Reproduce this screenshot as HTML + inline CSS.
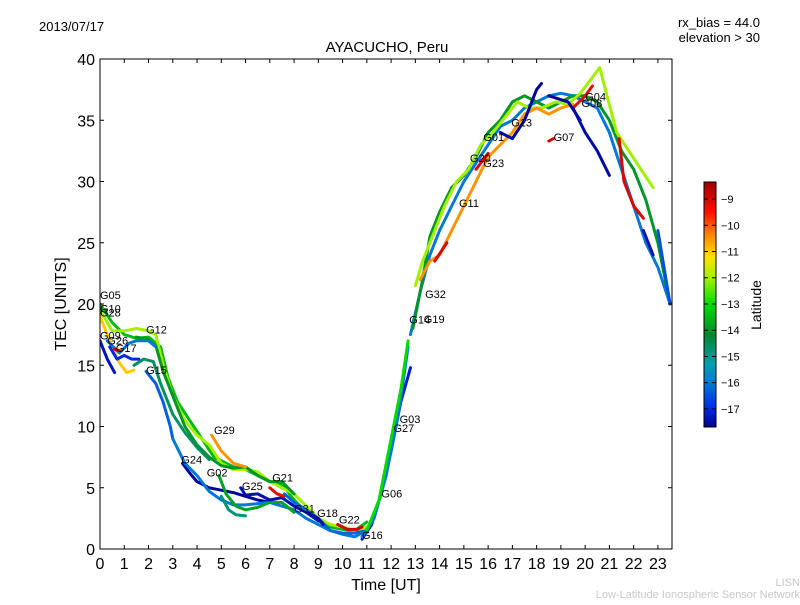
<!DOCTYPE html>
<html><head><meta charset="utf-8"><style>
body{margin:0;background:#fff;width:800px;height:600px;overflow:hidden;font-family:"Liberation Sans","DejaVu Sans",sans-serif}
</style></head><body>
<svg id="chart" width="800" height="600" xmlns="http://www.w3.org/2000/svg" font-family="Liberation Sans, DejaVu Sans, sans-serif">
<defs><linearGradient id="jetgrad" x1="0" y1="1" x2="0" y2="0"></linearGradient>
<clipPath id="plotclip"><rect x="100" y="59" width="572" height="490"/></clipPath></defs>
<text x="39" y="31" font-size="13">2013/07/17</text>
<text x="760" y="27" font-size="13" text-anchor="end">rx_bias = 44.0</text>
<text x="760" y="42" font-size="13" text-anchor="end">elevation &gt; 30</text>
<text x="387" y="52" font-size="15" text-anchor="middle">AYACUCHO, Peru</text>
<text transform="translate(66,304) rotate(-90)" font-size="16" text-anchor="middle">TEC [UNITS]</text>
<text x="386" y="590" font-size="16" text-anchor="middle">Time [UT]</text>
<text x="800" y="586" font-size="11" fill="#c8c8c8" text-anchor="end">LISN</text>
<text x="800" y="598" font-size="11" fill="#c8c8c8" text-anchor="end">Low-Latitude Ionospheric Sensor Network</text>
<g id="series" clip-path="url(#plotclip)"></g>
<g id="labels"></g>
<rect x="100" y="59" width="572" height="490" fill="none" stroke="#000" stroke-width="1"/>
<g id="axes"></g>
<rect x="704" y="182" width="12" height="245" fill="url(#jetgrad)" stroke="#000" stroke-width="1"/>
<g id="cbticks"></g>
<text transform="translate(761,305) rotate(-90)" font-size="14" text-anchor="middle">Latitude</text>
</svg>
<script>
const xTicks=[0,1,2,3,4,5,6,7,8,9,10,11,12,13,14,15,16,17,18,19,20,21,22,23];
const yTicks=[0,5,10,15,20,25,30,35,40];
const cbTicks=[-9,-10,-11,-12,-13,-14,-15,-16,-17];
const latMin=-17.69, latMax=-8.35;
// tracks: [time, tec] pairs and latitude
const trackLats=[-13.5,-12,-11,-14,-14.6,-16,-16.3,-17.3,-17,-8.8,-10.5,-17.6,-16,-13.8,-14.8,-17.4,-9.3,-16.2,-17.5,-8.9,-17.2,-16,-13,-16,-14,-12,-10.5,-9,-9,-9,-9.2,-9,-17.6,-17.6,-17.5,-17.4,-16.5];
const trackTimes=[
[0,0.5,1,1.5,2,2.5,2.8,3.2,3.7,4.2,4.7,5.5,6,6.5,7,7.5,8,8.5,9,9.5,10,10.5,11],
[0,0.5,1,1.5,2,2.3,2.6,3,3.5,4,4.5,5,5.5,6,6.5,7,7.5,8,8.5,9,9.5,10,10.5,11],
[0,0.4,0.8,1.1,1.4],
[1.5,2,2.3,2.6,3,3.5,4,4.5,5,5.5,6,6.5,7,7.5,8],
[1.4,1.8,2.2,2.5,3,3.5,4,4.5],
[0.3,0.8,1.2,1.5,2,2.3],
[1.9,2.3,2.6,2.9,3],
[0,0.3,0.6],
[0.4,0.7,1,1.3,1.6],
[0.6,0.8],
[4.6,5,5.5,6],
[3.4,3.7,4,4.5,5,5.5,6,6.5,7],
[3,3.5,4,4.5,5,5.5,6,7,8,8.5,9,9.5,10,10.5,11],
[4.9,5.2,5.6,6,6.5,7,7.5,8],
[5,5.3,5.6,6],
[5.8,6,6.5,7,7.5,8,8.5,9],
[7,7.3,7.6],
[7.6,8,8.5,9,9.5,10,10.5,11],
[8.5,9,9.2],
[9.8,10.2,10.6,10.8],
[10.8,11.2,11.5,12,12.4,12.8],
[10.8,11.3,11.8,12.3,12.7],
[11,11.5,12,12.4,12.7],
[12.8,13.2,13.6,14,14.5,15,15.5,16,16.5,17,17.5,18,18.5,19,19.5,20,20.5,21,21.5,22,22.5,23,23.5],
[12.9,13.3,13.6,14,14.5,15,15.5,16,16.5,17,17.5,18,18.5,19,19.5,20,20.5,21,21.5,22,22.5,23,23.5],
[13,13.3,13.8,14.2,14.7,15.2,15.7,16.2,16.8,17.2,17.7,18.2,18.8,19.3,19.8,20.3,20.6,20.9,21.3,21.8,22.3,22.8],
[13.2,13.6,14,14.5,15,15.5,16,16.5,17,17.5,18,18.5,19,19.5],
[13.8,14.3],
[18.5,18.7],
[15.5,16],
[19.5,20,20.3],
[21.4,21.6,22,22.4],
[16.5,17,17.5,18,18.2],
[18.5,19.3,19.8],
[19.5,20,20.5,21],
[22.4,22.8],
[23,23.5]];
const trackTec=[
[20,18.5,17.5,17.2,17.3,16.5,14,12,10.5,9,7.5,6.7,6.5,6,5.5,5.3,4,3,2.3,1.8,1.6,1.5,2.2],
[19.5,17.8,17.8,18,17.8,17.5,15,12.5,10.5,9.3,8.5,7,6.5,6.5,6.3,5.5,5,4.5,3.5,2.5,2,1.8,1.5,1.8],
[19,17,15.2,14.4,14.6],
[17.3,17.1,16.6,14.5,12.5,10,8.5,7.5,6.8,6.6,6.7,6,5.5,5.5,4.5],
[15,15.5,15.3,13.5,11,9.5,8.3,7.3],
[17,16,16.8,17,17,16.5],
[14.5,13.5,12,10,9],
[17,15.5,14.4],
[16.5,15.5,15.8,15.5,15.5],
[16.3,16.2],
[9.3,8,7,6.7],
[7,6.2,5.5,5,4.8,4.6,4.3,4,3.8],
[9,7,6,4.7,4,3.6,3.6,3.8,3.2,2.5,2,1.5,1.2,1,1.5],
[6,4.5,3.5,3.2,3.4,3.8,3.8,3],
[4.3,3.2,2.8,2.7],
[5,4.4,4.5,4,4.2,3.5,3,2.3],
[5,4.5,4.3],
[4.5,3.8,3.2,2.5,1.5,1.3,1.3,1.5],
[3,2.5,2],
[2,1.6,1.6,1.8],
[0.8,2,4,8,12,14.8],
[1,2.5,6,11,16.5],
[1.5,4,9,13,17],
[17.5,21,24,26,28,30,31.5,33,34.5,35,36,36.5,37,37.2,37,36.5,36,34,31,28,25,23,20],
[18,22,25.5,27.5,29.5,30.5,32,34,35,36.5,37,36.5,36,36.5,37,37,36.5,35,32.5,31,28.5,25,20],
[21.5,23.5,26,28,30,31,33,34,35.5,36.5,36,36,36.5,36.3,37.2,38.5,39.3,37,34,32.5,31,29.5],
[22,23.5,24,26,28,30,32,33,34,35.5,36,35.5,36,36.3],
[23.5,25],
[33.3,33.5],
[31,32.3],
[36,37,37.8],
[33.5,30,28,27],
[34,33.5,35,37.5,38],
[37,36.5,35],
[36,34,32.5,30.5],
[26,24],
[26,20]];
const labelNames=["G05","G10","G28","G09","G26","G17","G12","G15","G29","G24","G02","G25","G21","G31","G18","G22","G16","G06","G03","G27","G14","G19","G32","G11","G20","G23","G01","G13","G07","G04","G08"];
const labelT=[0,0,0,0,0.3,0.65,1.9,1.9,4.7,3.35,4.4,5.85,7.1,8.0,8.95,9.85,10.8,11.6,12.35,12.1,12.75,13.35,13.4,14.8,15.25,15.8,15.8,16.95,18.7,20.0,19.85];
const labelTec=[20.4,19.3,19.0,17.1,16.7,16.1,17.6,14.3,9.4,7.0,5.9,4.8,5.5,3.0,2.6,2.1,0.8,4.2,10.3,9.55,18.4,18.45,20.5,27.9,31.6,31.2,33.3,34.5,33.3,36.6,36.1];

const X0=100,X1=672,Y0=549,Y1=59,TMAX=23.58,VMAX=40;
const sx=t=>X0+t/TMAX*(X1-X0);
const sy=v=>Y0-v/VMAX*(Y0-Y1);
const cy=l=>427-(l-latMin)/(latMax-latMin)*245;
const cmStops=[[0,[0,0,143]],[0.074,[0,40,230]],[0.18,[0,120,215]],[0.256,[0,160,175]],[0.374,[0,136,48]],[0.5,[0,220,0]],[0.607,[160,240,0]],[0.693,[255,225,0]],[0.79,[255,128,0]],[0.876,[255,16,0]],[1,[160,0,0]]];
function cmap(v){v=Math.max(0,Math.min(1,v));
for(let i=1;i<cmStops.length;i++){if(v<=cmStops[i][0]){const a=cmStops[i-1],b=cmStops[i],f=(v-a[0])/(b[0]-a[0]);
return 'rgb('+a[1].map((c,k)=>Math.round(c+(b[1][k]-c)*f)).join(',')+')';}}
return 'rgb(160,0,0)';}
const NS="http://www.w3.org/2000/svg";
function mk(tag,attrs,parent,text){const e=document.createElementNS(NS,tag);for(const k in attrs)e.setAttribute(k,attrs[k]);if(text!==undefined)e.textContent=text;parent.appendChild(e);return e;}
const grad=document.getElementById('jetgrad');
cmStops.forEach(s=>mk('stop',{offset:s[0],'stop-color':cmap(s[0])},grad));
const series=document.getElementById('series');
trackTimes.forEach((ts,i)=>{
  const pts=ts.map((t,j)=>sx(t).toFixed(1)+','+sy(trackTec[i][j]).toFixed(1)).join(' ');
  const p=mk('polyline',{points:pts,fill:'none',stroke:cmap((trackLats[i]-latMin)/(latMax-latMin)),'stroke-width':3,'stroke-linejoin':'round','stroke-linecap':'round'},series);
  
  
});
const labels=document.getElementById('labels');
labelNames.forEach((n,i)=>{
  const t=mk('text',{x:sx(labelT[i]).toFixed(1),y:sy(labelTec[i]).toFixed(1),'font-size':11},labels,n);
  
  
});
const axes=document.getElementById('axes');
xTicks.forEach(v=>{
  const x=sx(v);
  mk('line',{x1:x,x2:x,y1:Y0,y2:Y0-4,stroke:'#000'},axes);
  mk('line',{x1:x,x2:x,y1:Y1,y2:Y1+4,stroke:'#000'},axes);
  const t=mk('text',{x:x,y:Y0+20,'font-size':16,'text-anchor':'middle'},axes,String(v));
  
  
});
yTicks.forEach(v=>{
  const y=sy(v);
  mk('line',{x1:X0,x2:X0+4,y1:y,y2:y,stroke:'#000'},axes);
  mk('line',{x1:X1,x2:X1-4,y1:y,y2:y,stroke:'#000'},axes);
  const t=mk('text',{x:X0-5,y:y+6,'font-size':16,'text-anchor':'end'},axes,String(v));
  
  
});
const cbt=document.getElementById('cbticks');
cbTicks.forEach(v=>{
  const y=cy(v);
  mk('line',{x1:704,x2:708,y1:y,y2:y,stroke:'#000'},cbt);
  mk('line',{x1:716,x2:712,y1:y,y2:y,stroke:'#000'},cbt);
  const t=mk('text',{x:721,y:y+4,'font-size':11},cbt,'\u2212'+Math.abs(v));
  
  
});
</script>
</body></html>
